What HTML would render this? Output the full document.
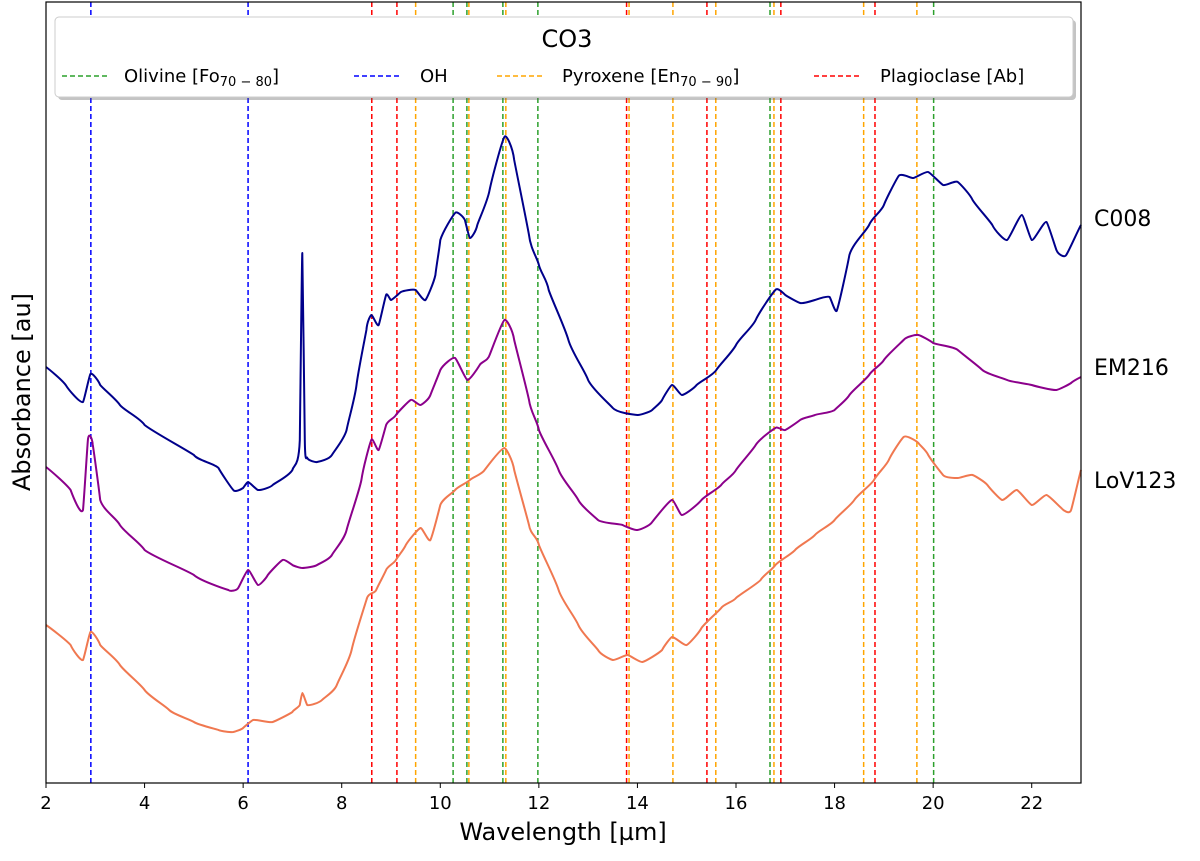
<!DOCTYPE html>
<html><head><meta charset="utf-8"><style>
body{margin:0;background:#fff}
svg{font-family:"DejaVu Sans","Liberation Sans",sans-serif}
</style></head><body>
<svg id="chart" width="1200" height="856" viewBox="0 0 1200 856">
<g id="plot"></g>
</svg>
<script>
const wlC008=[2.0,2.4,2.75,2.9,3.1,3.5,4,5,5.5,5.8,6.0,6.1,6.3,6.6,7.0,7.15,7.2,7.25,7.3,7.5,7.8,8.1,8.3,8.5,8.6,8.75,8.9,9.0,9.2,9.5,9.7,9.9,10.0,10.3,10.5,10.6,10.75,11.0,11.3,11.5,11.8,12.0,12.2,12.6,13.0,13.5,14.0,14.3,14.5,14.7,14.9,15.2,15.6,16.0,16.4,16.8,17.0,17.3,17.6,17.9,18.05,18.3,18.7,19.0,19.3,19.6,19.9,20.2,20.5,20.8,21.2,21.5,21.8,22.0,22.3,22.5,22.7,23.0];
const pxC008=[367,385,402,374,385,405,425,455,468,490,488,482,490,485,470,440,253,440,458,462,455,430,385,330,315,325,295,300,292,290,300,275,240,213,220,238,225,190,137,160,235,265,290,340,380,408,415,410,400,385,395,385,370,345,320,290,295,303,300,297,310,255,225,205,176,178,172,185,182,200,225,240,215,240,222,250,255,225];
const wlEM216=[2.0,2.5,2.75,2.85,2.95,3.1,3.5,4,5,5.7,5.9,6.1,6.3,6.5,6.8,7.0,7.2,7.5,7.8,8.1,8.4,8.6,8.75,8.9,9.1,9.4,9.6,9.8,10.0,10.3,10.55,10.8,11.0,11.3,11.5,11.8,12.0,12.4,12.8,13.2,13.7,14.0,14.3,14.7,14.9,15.3,15.7,16.0,16.4,16.8,17.0,17.3,17.6,18.0,18.3,18.7,19.0,19.4,19.7,20.0,20.5,21.0,21.5,22.0,22.5,22.8,23.0];
const pxEM216=[467,490,510,440,445,500,525,550,575,590,588,570,585,575,560,565,568,565,555,530,480,440,450,425,415,400,405,395,370,358,380,365,355,320,340,400,430,470,500,520,525,530,522,500,515,500,485,470,445,428,430,420,415,410,395,375,360,340,335,343,350,370,380,385,390,383,377];
const wlLoV=[2.0,2.5,2.75,2.9,3.1,3.5,4,4.5,5,5.5,5.8,6.0,6.2,6.6,7.0,7.15,7.2,7.3,7.6,7.9,8.2,8.5,8.7,8.9,9.1,9.3,9.6,9.8,10.0,10.3,10.6,10.9,11.3,11.5,11.8,12.0,12.4,12.8,13.2,13.5,13.8,14.1,14.5,14.7,15.0,15.3,15.7,16.0,16.5,16.8,17.2,17.6,18.0,18.4,18.8,19.1,19.4,19.7,19.9,20.2,20.5,20.8,21.1,21.4,21.7,22.0,22.3,22.6,22.8,23.0];
const pxLoV=[625,645,660,632,645,665,690,710,722,730,732,728,720,722,712,705,693,705,700,685,650,600,590,570,560,545,528,540,505,490,480,470,448,470,525,545,590,625,650,660,655,662,650,637,645,628,608,598,580,565,550,535,520,500,480,460,437,443,455,475,478,475,485,500,490,505,495,508,510,470];
const oliv=[10.26,10.54,11.27,11.98,16.69,20.01];
const ohLines=[2.91,6.1];
const pyrox=[9.5,10.58,11.33,13.83,14.72,15.59,16.77,18.59,19.67];
const plag=[8.61,9.12,13.78,15.41,16.91,18.82];
const xTicks=[2,4,6,8,10,12,14,16,18,20,22];

const NS="http://www.w3.org/2000/svg";
const X0=46,X1=1081,Y0=2,Y1=783;
const xs=w=>X0+(w-2)/21*(X1-X0);
const absv=p=>(783-p)/100;
const ys=v=>783-v*100;
const g=document.getElementById('plot');
function mk(t,a,p){const e=document.createElementNS(NS,t);for(const k in a)e.setAttribute(k,a[k]);(p||g).appendChild(e);return e;}

function vlines(arr,col,nm){arr.forEach(w=>{
 const l=mk('line',{x1:xs(w),x2:xs(w),y1:Y0,y2:Y1,stroke:col,'stroke-width':1.5,'stroke-dasharray':'5,3'});
 
 
});}
vlines(oliv,'#2ca02c','olivine-line');
vlines(ohLines,'#0000ff','oh-line');
vlines(pyrox,'#ffa500','pyroxene-line');
vlines(plag,'#ff0000','plagioclase-line');

function series(wl,px,col,nm){
 const P=wl.map((w,i)=>[xs(w),ys(absv(px[i]))]);
 let d='M'+P[0][0].toFixed(1)+','+P[0][1].toFixed(1);
 const t=0.5/3*2*0.5;
 for(let i=0;i<P.length-1;i++){
  const p0=P[Math.max(0,i-1)],p1=P[i],p2=P[i+1],p3=P[Math.min(P.length-1,i+2)];
  const k=1/6;
  const c1x=p1[0]+(p2[0]-p0[0])*k*(p2[0]-p1[0])/Math.max(1e-6,(p2[0]-p0[0])/2)/2;
  const c1y=p1[1]+(p2[1]-p0[1])*k*0.8;
  const c2x=p2[0]-(p3[0]-p1[0])*k*(p2[0]-p1[0])/Math.max(1e-6,(p3[0]-p1[0])/2)/2;
  const c2y=p2[1]-(p3[1]-p1[1])*k*0.8;
  d+=' C'+c1x.toFixed(1)+','+c1y.toFixed(1)+' '+c2x.toFixed(1)+','+c2y.toFixed(1)+' '+p2[0].toFixed(1)+','+p2[1].toFixed(1);
 }
 const p=mk('path',{d:d,fill:'none',stroke:col,'stroke-width':2,'stroke-linejoin':'round'});
 
 
}
series(wlC008,pxC008,'#00008b','series-c008');
series(wlEM216,pxEM216,'#8b008b','series-em216');
series(wlLoV,pxLoV,'#f07850','series-lov123');

const fr=mk('rect',{x:X0,y:Y0,width:X1-X0,height:Y1-Y0,fill:'none',stroke:'#000','stroke-width':1.2});



xTicks.forEach(t=>{
 const l=mk('line',{x1:xs(t),x2:xs(t),y1:Y1,y2:Y1+5,stroke:'#000'});
 
 
 const tx=mk('text',{x:xs(t),y:Y1+26,'text-anchor':'middle','font-size':18});
 tx.textContent=t;
 
 
});
</script>
<svg style="position:absolute;left:0;top:0" width="1200" height="856">
<text x="563" y="840" text-anchor="middle" font-size="24">Wavelength [µm]</text>
<text transform="translate(30,392) rotate(-90)" text-anchor="middle" font-size="24">Absorbance [au]</text>
<text x="1094" y="226" font-size="22">C008</text>
<text x="1094" y="375" font-size="22">EM216</text>
<text x="1094" y="488" font-size="22">LoV123</text>
<g>
<rect x="58" y="20" width="1018" height="80" rx="4" fill="#555" opacity="0.35"/>
<rect x="55" y="17" width="1018" height="80" rx="4" fill="#fff" stroke="#ccc"/>
<text x="567" y="47" text-anchor="middle" font-size="24">CO3</text>
<g><line x1="62" x2="110" y1="76" y2="76" stroke="#2ca02c" stroke-width="1.5" stroke-dasharray="5,3"/><text x="124" y="82" font-size="18">Olivine [Fo<tspan font-size="13" dy="4">70 − 80</tspan><tspan dy="-4">]</tspan></text></g>
<g><line x1="354" x2="402" y1="76" y2="76" stroke="#0000ff" stroke-width="1.5" stroke-dasharray="5,3"/><text x="420" y="82" font-size="18">OH</text></g>
<g><line x1="497" x2="545" y1="76" y2="76" stroke="#ffa500" stroke-width="1.5" stroke-dasharray="5,3"/><text x="562" y="82" font-size="18">Pyroxene [En<tspan font-size="13" dy="4">70 − 90</tspan><tspan dy="-4">]</tspan></text></g>
<g><line x1="814" x2="862" y1="76" y2="76" stroke="#ff0000" stroke-width="1.5" stroke-dasharray="5,3"/><text x="880" y="82" font-size="18">Plagioclase [Ab]</text></g>
</g>
</svg>
</body></html>
